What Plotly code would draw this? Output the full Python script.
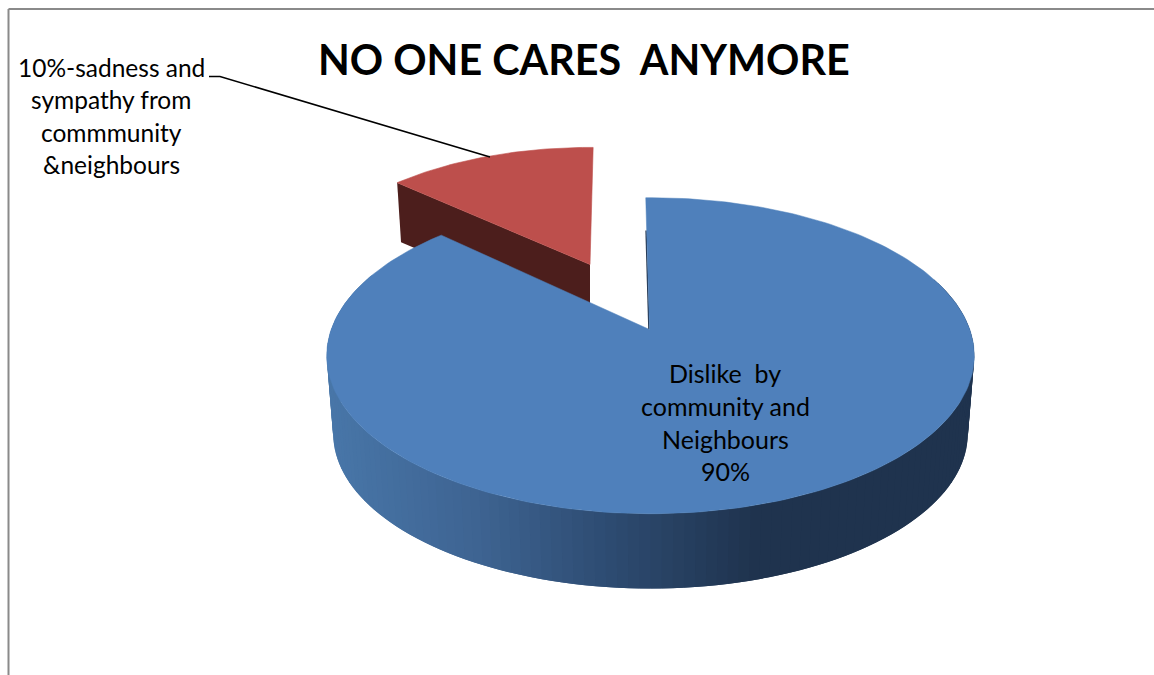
import numpy as np
import plotly.graph_objects as go

# --- chart data ---
categories = ["Dislike by community and Neighbours", "sadness and sympathy from commmunity & neighbours"]
drawn_shares = [87.2, 13.7]          # share of the circle each wedge covers as drawn in the picture
title_text = "NO ONE CARES\u00a0\u00a0ANYMORE"
inside_label = ["Dislike\u00a0\u00a0by", "community and", "Neighbours", "90%"]
callout_label = ["10%-sadness and", "sympathy from", "commmunity", "&neighbours"]

# --- drawing style / geometry ---
W, H = 1154, 675
FONT = "Lato, Carlito, Calibri, sans-serif"
BLUE_TOP, RED_TOP, RED_WALL = "#4f80bb", "#bd4f4c", "#4c1e1c"
WALL_STOPS = [(330, (72, 118, 168)), (480, (62, 100, 146)), (600, (47, 78, 117)),
              (760, (31, 51, 78)), (975, (31, 51, 78))]
A, B = 319.0, 153.4                  # size of the disc on the page
ROTATION = -1.0


def project(apex, radius, deg, drop=0.0, shrink=1.0, tilt=0.171, nudge=(1.0, -0.8)):
    t = np.radians(np.asarray(deg, dtype=float))
    radius = np.asarray(radius, dtype=float)
    u, v = radius * np.sin(t), radius * np.cos(t)
    w = 1 + tilt * v
    x = apex[0] + shrink * A * u / w + nudge[0] * radius
    y = apex[1] + drop - shrink * B * v / w + nudge[1] * radius
    return x, y


def wall_colour(x):
    xs = [s[0] for s in WALL_STOPS]
    rgb = [int(round(np.interp(x, xs, [s[1][i] for s in WALL_STOPS]))) for i in range(3)]
    return "rgb(%d,%d,%d)" % tuple(rgb)


def poly(x, y, colour, lw=0.0):
    return go.Scatter(x=list(x), y=list(y), mode="lines", fill="toself", fillcolor=colour,
                      line=dict(color=colour, width=lw), hoverinfo="skip", showlegend=False)


spans = np.array(drawn_shares) / 100 * 360
blue_start, blue_end = ROTATION, ROTATION + spans[0]
red_start, red_end = blue_end - 1.5, blue_end - 1.5 + spans[1]

BLUE_APEX = (649.5, 329.5)
RED_APEX = (590, 264.5)
RED_R = 0.905
RED_GEOM = dict(tilt=0.205, nudge=(0.0, 0.0))
BLUE_DROP, RED_DROP = 78.5, 58.0

traces = []

# red wedge: cut wall, then the top face
ex0, ey0 = project(RED_APEX, RED_R, red_start, **RED_GEOM)
ex1, ey1 = project(RED_APEX, RED_R, red_start, drop=RED_DROP, shrink=0.98, **RED_GEOM)
traces.append(poly([RED_APEX[0], float(ex0), float(ex1), RED_APEX[0]],
                   [RED_APEX[1], float(ey0), float(ey1), RED_APEX[1] + RED_DROP], RED_WALL))
ang = np.linspace(red_start, red_end, 60)
rx, ry = project(RED_APEX, RED_R, ang, **RED_GEOM)
traces.append(poly([RED_APEX[0], *rx, RED_APEX[0]], [RED_APEX[1], *ry, RED_APEX[1]], RED_TOP, lw=0.6))

# blue wedge: front wall as overlapping shaded strips, each reaching into the one drawn before it
edges = np.linspace(290, 70, 131)
step = edges[0] - edges[1]
for a0 in edges[:-1]:
    near, far = a0 + step, a0 - step
    x0, y0 = project(BLUE_APEX, 1, [near, far])
    x1, y1 = project(BLUE_APEX, 1, [far, near], drop=BLUE_DROP, shrink=0.98)
    traces.append(poly([*x0, *x1, x0[0]], [*y0, *y1, y0[0]], wall_colour(float(x0.mean()))))

# sliver of the inner wall beside the gap
sx, sy = project(BLUE_APEX, np.array([0.72, 0.0]), blue_start)
traces.append(go.Scatter(x=list(sx - 0.6), y=list(sy), mode="lines", hoverinfo="skip", showlegend=False,
                         line=dict(color="#24364f", width=1.4)))

# blue top face
ang = np.linspace(blue_start, blue_end, 240)
bx, by = project(BLUE_APEX, 1, ang)
traces.append(poly([BLUE_APEX[0], *bx, BLUE_APEX[0]], [BLUE_APEX[1], *by, BLUE_APEX[1]], BLUE_TOP, lw=0.5))

# leader line of the callout
traces.append(go.Scatter(x=[209, 220, 490], y=[76.5, 76.5, 157], mode="lines", hoverinfo="skip",
                         showlegend=False, line=dict(color="#000000", width=1.6)))

fig = go.Figure(traces)

annotations = [dict(x=584, y=59, text="<b>%s</b>" % title_text, showarrow=False,
                    font=dict(family=FONT, size=41.3, color="#000000"))]
for txt, yy in zip(callout_label, [67.5, 99.5, 132.5, 164.5]):
    annotations.append(dict(x=111, y=yy, text=txt, showarrow=False,
                            font=dict(family=FONT, size=24.5, color="#000000")))
for txt, yy in zip(inside_label, [372.5, 405.5, 438.5, 470.5]):
    annotations.append(dict(x=725, y=yy, text=txt, showarrow=False,
                            font=dict(family=FONT, size=25, color="#000000")))

fig.update_layout(
    width=W, height=H, margin=dict(l=0, r=0, t=0, b=0),
    paper_bgcolor="#ffffff", plot_bgcolor="#ffffff", showlegend=False,
    xaxis=dict(range=[0, W], visible=False, fixedrange=True),
    yaxis=dict(range=[H, 0], visible=False, fixedrange=True),
    annotations=annotations,
    shapes=[
        dict(type="line", xref="x", yref="y", x0=8.5, x1=W, y0=9, y1=9, line=dict(color="#8a8a8a", width=2)),
        dict(type="line", xref="x", yref="y", x0=8.5, x1=8.5, y0=9, y1=H, line=dict(color="#8a8a8a", width=2)),
    ],
)

fig.write_html("out.html", config=dict(displayModeBar=False),
               post_script="document.body.style.margin='0';document.body.style.overflow='hidden';")
